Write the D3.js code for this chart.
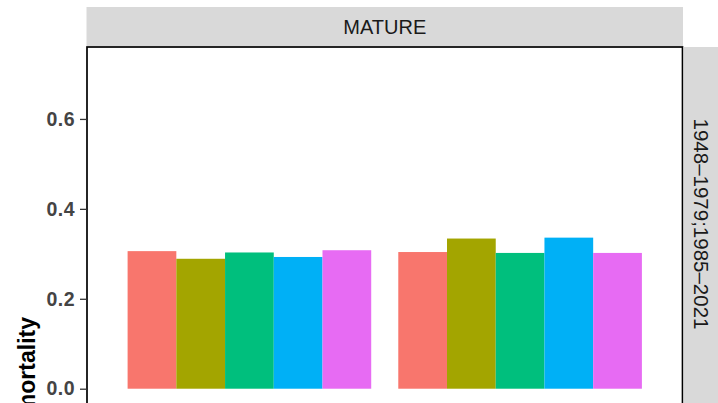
<!DOCTYPE html>
<html>
<head>
<meta charset="utf-8">
<script src="https://cdn.jsdelivr.net/npm/d3@7"></script>
<style>
  html, body { margin: 0; padding: 0; background: #fff; }
  svg { display: block; }
</style>
</head>
<body>
<svg id="chart" width="718" height="403"></svg>
<script>
// Facet labels
const stageLabel = "MATURE";
const periodLabel = "1948\u20131979;1985\u20132021";

// Groups on the x axis and the five coloured series within each group
const groups = ["A", "B"];
const series = ["s1", "s2", "s3", "s4", "s5"];
const seriesColors = ["#F8766D", "#A3A500", "#00BF7D", "#00B0F6", "#E76BF3"];

// Mortality per series, one array per group
const valuesA = [0.306, 0.289, 0.303, 0.293, 0.308];
const valuesB = [0.304, 0.334, 0.302, 0.336, 0.302];

const yTicks = [0, 0.2, 0.4, 0.6];
const yTitle = "mortality";

const data = [];
groups.forEach((g, gi) => {
  const vals = gi === 0 ? valuesA : valuesB;
  series.forEach((s, si) => data.push({ group: g, series: s, value: vals[si] }));
});

const svg = d3.select("#chart");

// Panel geometry
const panel = { left: 87, right: 682.5, top: 47, bottom: 405.8 };

const y = d3.scaleLinear()
  .domain([-0.038, 0.76])
  .range([panel.bottom, panel.top]);

const x = d3.scaleBand()
  .domain(groups)
  .range([panel.left, panel.right])
  .paddingInner(0.1)
  .paddingOuter(0.15);

const xs = d3.scaleBand()
  .domain(series)
  .range([0, x.bandwidth()]);

const color = d3.scaleOrdinal().domain(series).range(seriesColors);

// Panel background
svg.append("rect")
  .attr("x", panel.left).attr("y", panel.top)
  .attr("width", panel.right - panel.left)
  .attr("height", panel.bottom - panel.top)
  .attr("fill", "#fff");

// Bars
svg.append("g")
  .selectAll("rect")
  .data(data)
  .join("rect")
  .attr("x", d => x(d.group) + xs(d.series))
  .attr("width", xs.bandwidth())
  .attr("y", d => y(d.value))
  .attr("height", d => y(0) - y(d.value))
  .attr("fill", d => color(d.series));

// Panel border
svg.append("rect")
  .attr("x", panel.left).attr("y", panel.top)
  .attr("width", panel.right - panel.left)
  .attr("height", panel.bottom - panel.top)
  .attr("fill", "none")
  .attr("stroke", "#000")
  .attr("stroke-width", 1.7);

// Y axis
const yAxis = svg.append("g")
  .attr("transform", `translate(${panel.left},0)`)
  .call(d3.axisLeft(y)
    .tickValues(yTicks)
    .tickFormat(d3.format(".1f"))
    .tickSize(7)
    .tickSizeOuter(0)
    .tickPadding(5));
yAxis.select(".domain").remove();
yAxis.selectAll(".tick line").attr("stroke", "#333").attr("stroke-width", 1.3);
yAxis.selectAll(".tick text")
  .attr("fill", "#444")
  .style("font-family", "'Liberation Sans', Arial, sans-serif")
  .style("font-weight", "bold")
  .style("font-size", "19.5px")
  .style("letter-spacing", "0.5px");

// Y axis title
svg.append("text")
  .attr("transform", `translate(35,317) rotate(-90)`)
  .attr("text-anchor", "end")
  .style("font-family", "'Liberation Sans', Arial, sans-serif")
  .style("font-weight", "bold")
  .style("font-size", "23px")
  .attr("fill", "#000")
  .text(yTitle);

// Top strip
svg.append("rect")
  .attr("x", 86.5).attr("y", 7)
  .attr("width", 683 - 86.5).attr("height", 39)
  .attr("fill", "#D9D9D9");
svg.append("text")
  .attr("x", (86.5 + 683) / 2).attr("y", 27)
  .attr("text-anchor", "middle")
  .attr("dominant-baseline", "central")
  .style("font-family", "'Liberation Sans', Arial, sans-serif")
  .style("font-size", "20px")
  .attr("fill", "#1A1A1A")
  .text(stageLabel);

// Right strip
svg.append("rect")
  .attr("x", 683.5).attr("y", 47)
  .attr("width", 60).attr("height", 400)
  .attr("fill", "#D9D9D9");
svg.append("text")
  .attr("transform", `translate(701.5,224) rotate(90)`)
  .attr("text-anchor", "middle")
  .attr("dominant-baseline", "central")
  .style("font-family", "'Liberation Sans', Arial, sans-serif")
  .style("font-size", "20.5px")
  .attr("fill", "#1A1A1A")
  .text(periodLabel);
</script>
</body>
</html>
